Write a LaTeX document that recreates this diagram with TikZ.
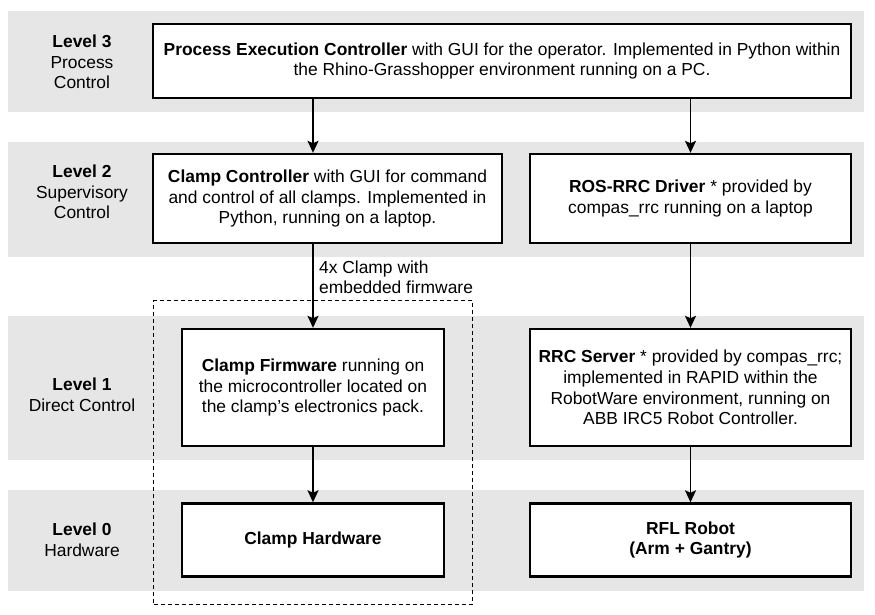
\documentclass[tikz,border=0pt]{standalone}
\usepackage{fontspec}
\setmainfont{Liberation Sans}
\usetikzlibrary{arrows.meta,fit}

\definecolor{bandgray}{HTML}{E6E6E6}

\begin{document}
\begin{tikzpicture}[x=1pt,y=-1pt,
    font=\fontsize{17.4}{20.7}\selectfont,
    band/.style={fill=bandgray,draw=none},
    levellabel/.style={align=center,inner sep=0pt},
    block/.style={draw,line width=2.4pt,fill=white,align=center,inner sep=0pt},
    flow/.style={line width=1.6pt,-{Stealth[length=12pt,width=11pt,inset=2.5pt]}},
    group/.style={draw,dash pattern=on 4pt off 3pt,line width=1.1pt,inner sep=27pt}]
\useasboundingbox (0,0) rectangle (875,614);

% level bands
\path[band] (8,11) rectangle (864,112);
\path[band] (8,142) rectangle (864,257);
\path[band] (8,316) rectangle (864,460);
\path[band] (8,490) rectangle (864,591);

\node[levellabel] (l3) at (82,62) {\textbf{Level 3}\\Process\\Control};
\node[levellabel] (l2) at (82,192) {\textbf{Level 2}\\Supervisory\\Control};
\node[levellabel] (l1) at (82,395) {\textbf{Level 1}\\Direct Control};
\node[levellabel] (l0) at (82,540) {\textbf{Level 0}\\Hardware};

% blocks
\node[block,minimum width=698pt,minimum height=74pt] (pec) at (502,61)
    {\textbf{Process Execution Controller} with GUI for the operator. Implemented in Python within\\the Rhino-Grasshopper environment running on a PC.};
\node[block,minimum width=349pt,minimum height=89pt] (cc) at (327.5,198.5)
    {\textbf{Clamp Controller} with GUI for command\\and control of all clamps. Implemented in\\Python, running on a laptop.};
\node[block,minimum width=321pt,minimum height=89pt] (ros) at (690.5,198.5)
    {\textbf{ROS-RRC Driver} * provided by\\compas\_rrc running on a laptop};
\node[block,minimum width=262pt,minimum height=117pt] (fw) at (313,387.5)
    {\textbf{Clamp Firmware} running on\\the microcontroller located on\\the clamp’s electronics pack.};
\node[block,minimum width=321pt,minimum height=117pt] (rrc) at (690.5,387.5)
    {\textbf{RRC Server} * provided by compas\_rrc;\\implemented in RAPID within the\\RobotWare environment, running on\\ABB IRC5 Robot Controller.};
\node[block,minimum width=262pt,minimum height=73pt] (hw) at (313,540)
    {\textbf{Clamp Hardware}};
\node[block,minimum width=321pt,minimum height=73pt] (rfl) at (690.5,540)
    {\textbf{RFL Robot}\\\textbf{(Arm + Gantry)}};

\node[group,fit=(fw)(hw)] (clampgrp) {};

% connectors
\draw[flow] (fw.north |- pec.south) -- (fw.north |- cc.north);
\draw[flow] (ros.north |- pec.south) -- (ros.north);
\draw[flow] (fw.north |- cc.south) -- (fw.north);
\draw[flow] (fw) -- (hw);
\draw[flow] (ros) -- (rrc);
\draw[flow] (rrc) -- (rfl);

\node[anchor=north west,align=left,inner sep=0pt] (fwnote) at ([xshift=6pt,yshift=-16pt]fw.north |- cc.south)
    {4x Clamp with\\embedded firmware};
\end{tikzpicture}
\end{document}
